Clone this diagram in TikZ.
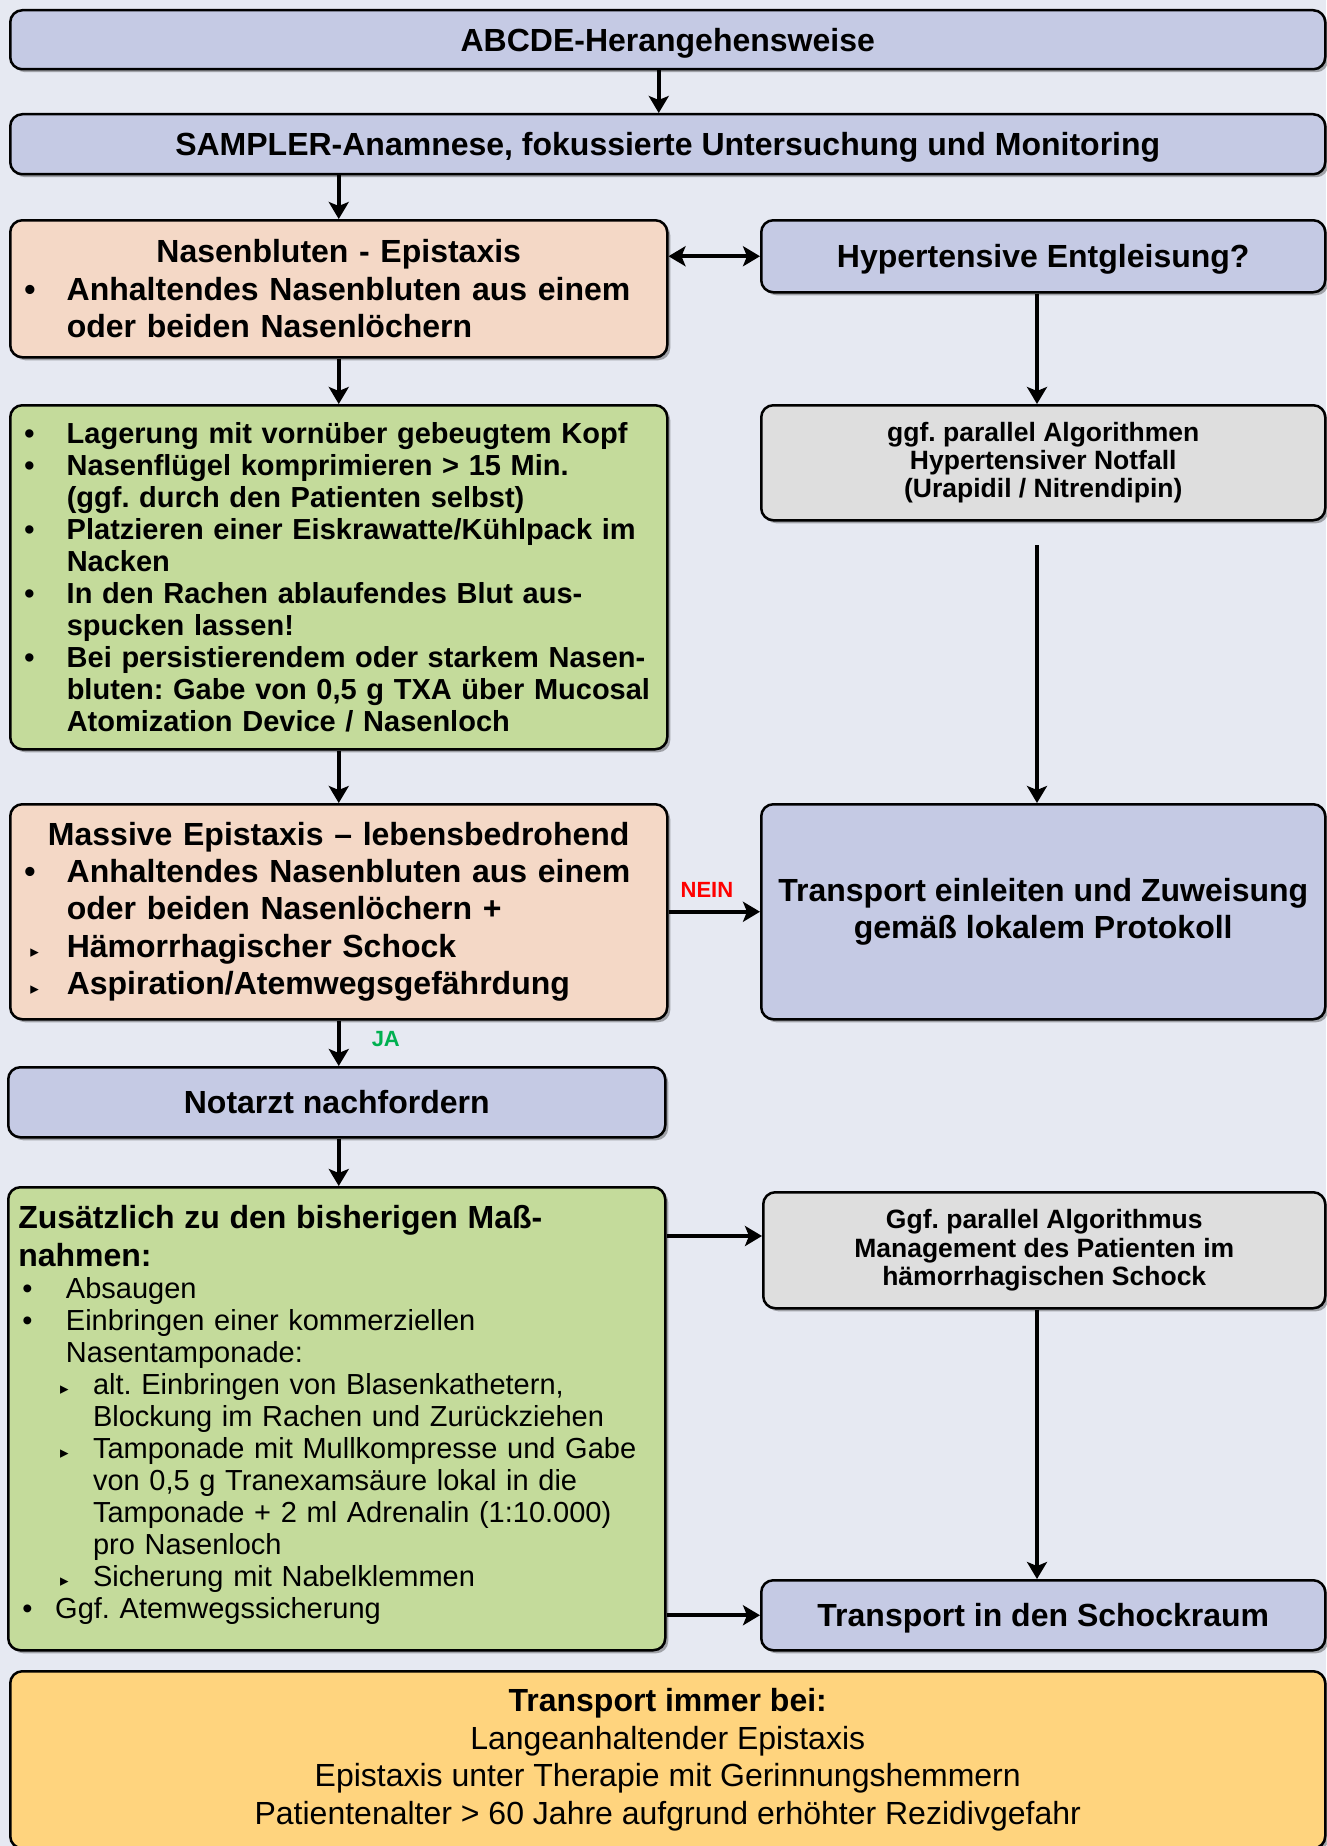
\documentclass[tikz,border=0pt]{standalone}
\usepackage{fontspec}
\setmainfont{Liberation Sans}
\newfontfamily\symfont{DejaVu Sans}
\usetikzlibrary{arrows.meta,shadows,positioning}
\frenchspacing

\definecolor{cbg}{HTML}{E6E9F2}
\definecolor{cblue}{HTML}{C5CAE4}
\definecolor{cpeach}{HTML}{F4D8C6}
\definecolor{cgreen}{HTML}{C4DB9B}
\definecolor{cgrey}{HTML}{DEDEDE}
\definecolor{cyellow}{HTML}{FFD47E}
\definecolor{cja}{HTML}{00B050}

% list line: bullet offset, text indent, bullet
\newcommand{\itmo}[3]{\noindent\hangindent=#2\hangafter=1\hbox to #2{\hskip#1\relax#3\hfil}\ignorespaces}
\newcommand{\itm}[3]{\par\itmo{#1}{#2}{#3}}
\newcommand{\trib}{{\symfont\fontsize{17}{17}\selectfont ▸}}
\newcommand{\fhead}{\bfseries\fontsize{32}{37.7}\selectfont}

\tikzset{
  box/.style={draw, line width=2.5pt, rounded corners=12pt, anchor=north west,
    inner xsep=10pt, inner ysep=0pt,
    drop shadow={shadow xshift=3pt, shadow yshift=-3pt, opacity=.3, fill=black}},
  head/.style={box, fill=cblue, font=\fhead, text depth=0pt},
  arr/.style={line width=4pt, -{Stealth[length=17pt,width=20pt,inset=4pt]}},
  dblarr/.style={line width=4pt, {Stealth[length=17pt,width=20pt,inset=4pt]}-{Stealth[length=17pt,width=20pt,inset=4pt]}},
  lbl/.style={font=\bfseries\fontsize{22}{26}\selectfont, inner sep=1pt},
}

\begin{document}
\begin{tikzpicture}[x=1pt,y=-1pt]
\def\xa{9}
\def\xb{760}
\def\xv{1037}

\fill[cbg] (0,0) rectangle (1326,1846);
\useasboundingbox (0,0) rectangle (1326,1846);

\node[head, minimum width=1315pt, minimum height=59pt] (abcde) at (\xa,9) {ABCDE-Herangehensweise};
\node[head, minimum width=1315pt, minimum height=60pt] (sampler) at (\xa,113) {SAMPLER-Anamnese, fokussierte Untersuchung und Monitoring};

\node[box, fill=cpeach, minimum width=657pt, minimum height=137pt, text width=637pt, align=left, font=\fhead] (nasen) at (\xa,219) {%
{\centering Nasenbluten - Epistaxis\par}
\itm{4pt}{46.5pt}{\textbullet}Anhaltendes Nasenbluten aus einem\newline oder beiden Nasenlöchern\par};
\node[head, minimum width=564pt, minimum height=72pt] (hyper) at (\xb,219) {Hypertensive Entgleisung?};

\node[box, fill=cgreen, minimum width=657pt, minimum height=344pt, text width=637pt, align=left, font=\bfseries\fontsize{29}{31.9}\selectfont] (lager) at (\xa,404) {%
\itmo{4pt}{46.5pt}{\textbullet}Lagerung mit vornüber gebeugtem Kopf
\itm{4pt}{46.5pt}{\textbullet}Nasenflügel komprimieren > 15 Min.\newline (ggf. durch den Patienten selbst)
\itm{4pt}{46.5pt}{\textbullet}Platzieren einer Eiskrawatte/Kühlpack im\newline Nacken
\itm{4pt}{46.5pt}{\textbullet}In den Rachen ablaufendes Blut aus-\newline spucken lassen!
\itm{4pt}{46.5pt}{\textbullet}Bei persistierendem oder starkem Nasen-\newline bluten: Gabe von 0,5 g TXA über Mucosal\newline Atomization Device / Nasenloch\par};
\node[box, fill=cgrey, minimum width=564pt, minimum height=115pt, align=center, font=\bfseries\fontsize{26.5}{28.3}\selectfont] (hypalg) at (\xb,404) {ggf. parallel Algorithmen\\Hypertensiver Notfall\\(Urapidil / Nitrendipin)};

\node[box, fill=cpeach, minimum width=657pt, minimum height=215pt, text width=637pt, align=left, font=\bfseries\fontsize{32}{37.4}\selectfont] (massiv) at (\xa,803) {%
{\centering Massive Epistaxis -- lebensbedrohend\par}
\itm{4pt}{46.5pt}{\textbullet}Anhaltendes Nasenbluten aus einem\newline oder beiden Nasenlöchern +
\itm{10pt}{46.5pt}{\trib}Hämorrhagischer Schock
\itm{10pt}{46.5pt}{\trib}Aspiration/Atemwegsgefährdung\par};
\node[box, fill=cblue, minimum width=564pt, minimum height=215pt, align=center, font=\bfseries\fontsize{32}{36.5}\selectfont] (zuweis) at (\xb,803) {Transport einleiten und Zuweisung\\gemäß lokalem Protokoll};

\node[box, fill=cblue, minimum width=657pt, minimum height=70pt, font=\fhead] (notarzt) at (7,1066) {Notarzt nachfordern};

\node[box, fill=cgreen, minimum width=657pt, minimum height=463pt, text width=637pt, align=left, font=\fontsize{29}{32}\selectfont] (zusatz) at (7,1186) {%
{\fhead Zusätzlich zu den bisherigen Maß-\newline nahmen:\par}
\itm{4pt}{47.7pt}{\textbullet}Absaugen
\itm{4pt}{47.7pt}{\textbullet}Einbringen einer kommerziellen\newline Nasentamponade:
\itm{41.8pt}{74.8pt}{\trib}alt. Einbringen von Blasenkathetern,\newline Blockung im Rachen und Zurückziehen
\itm{41.8pt}{74.8pt}{\trib}Tamponade mit Mullkompresse und Gabe\newline von 0,5 g Tranexamsäure lokal in die\newline Tamponade + 2 ml Adrenalin (1:10.000)\newline pro Nasenloch
\itm{41.8pt}{74.8pt}{\trib}Sicherung mit Nabelklemmen
\itm{4pt}{37pt}{\textbullet}Ggf. Atemwegssicherung\par\kern8pt};
\node[box, fill=cgrey, minimum width=562pt, minimum height=116pt, align=center, font=\bfseries\fontsize{26.5}{28.3}\selectfont] (schockalg) at (762,1191) {Ggf. parallel Algorithmus\\Management des Patienten im\\hämorrhagischen Schock};
\node[head, minimum width=564pt, minimum height=70pt] (schockraum) at (\xb,1579) {Transport in den Schockraum};

\node[box, fill=cyellow, minimum width=1315pt, minimum height=177pt, align=center, font=\fontsize{32}{37.7}\selectfont] (immer) at (\xa,1670) {\textbf{Transport immer bei:}\\Langeanhaltender Epistaxis\\Epistaxis unter Therapie mit Gerinnungshemmern\\Patientenalter > 60 Jahre aufgrund erhöhter Rezidivgefahr};

\coordinate (axr) at (\xv,0);
\coordinate (gap) at (\xv,545);
\coordinate (yalg) at (0,1236);

\draw[arr] ([xshift=-9pt]abcde.south) -- ([xshift=-9pt]sampler.north);
\draw[arr] (sampler.south -| nasen.north) -- (nasen.north);
\draw[dblarr] (nasen.east |- hyper.west) -- (hyper.west);
\draw[arr] (hyper.south -| axr) -- (hypalg.north -| axr);
\draw[arr] (gap) -- (zuweis.north -| gap);
\draw[arr] (nasen.south) -- (lager.north);
\draw[arr] (lager.south) -- (massiv.north);
\draw[arr] (massiv.east) -- (zuweis.west |- massiv.east) node[lbl, text=red, above=11pt, pos=.42] {NEIN};
\draw[arr] (massiv.south) -- (notarzt.north -| massiv.south) node[lbl, text=cja, right=30pt, pos=.4] {JA};
\draw[arr] (notarzt.south -| massiv.south) -- (zusatz.north -| massiv.south);
\draw[arr] (zusatz.east |- yalg) -- (schockalg.west |- yalg);
\draw[arr] (schockalg.south -| axr) -- (schockraum.north -| axr);
\draw[arr] (zusatz.east |- schockraum.west) -- (schockraum.west);

\end{tikzpicture}
\end{document}
